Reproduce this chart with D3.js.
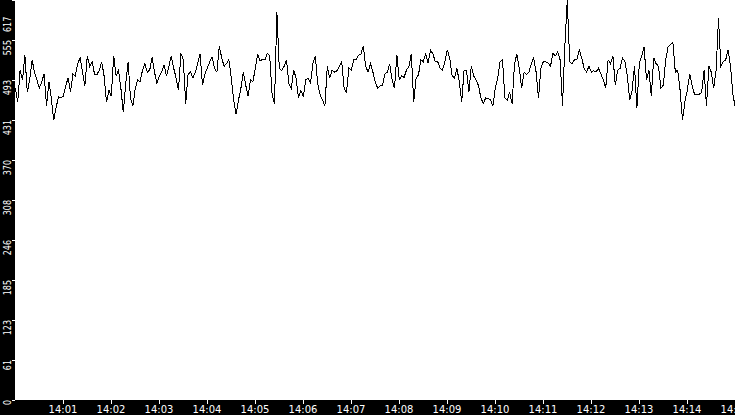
<!DOCTYPE html>
<html>
<head>
<meta charset="utf-8">
<script src="https://cdn.jsdelivr.net/npm/d3@7"></script>
<style>
  html, body { margin: 0; padding: 0; background: #000; }
  svg { display: block; }
</style>
</head>
<body>
<svg id="chart" width="735" height="415"></svg>
<script>
// ---- data ----
const startTime = "2024-01-01T14:00:01";   // first sample
const stepSeconds = 3;                      // sampling interval
const values = [
  480,459,508,493,531,474,493,524,505,493,480,490,502,453,490,465,431,450,467,465,
  468,484,496,474,502,499,518,527,505,484,530,514,521,502,501,508,521,499,459,477,
  468,530,499,508,480,443,487,521,465,453,480,493,490,508,518,505,508,528,505,488,
  499,505,516,499,514,530,511,496,477,534,524,456,502,505,496,505,518,533,485,502,
  511,521,528,511,505,545,527,514,518,524,496,462,440,462,480,505,485,468,493,490,
  511,533,522,525,524,534,530,470,456,598,511,507,514,524,487,480,508,496,465,477,
  467,493,496,488,518,530,487,470,462,453,514,496,508,505,507,514,521,480,474,511,
  508,524,524,531,533,545,514,505,518,505,490,480,484,484,502,505,518,493,480,531,
  493,499,497,508,514,533,459,496,501,524,521,533,519,539,533,521,521,511,508,521,
  539,527,499,496,511,490,459,508,508,474,514,499,493,484,465,457,465,464,462,453,
  480,496,521,524,465,462,474,456,518,533,511,480,505,501,505,518,527,505,465,511,
  521,521,519,514,534,530,536,524,453,547,616,521,518,524,524,539,527,511,505,514,
  505,507,505,511,502,493,480,524,518,530,485,508,511,527,521,499,462,477,514,450,
  518,530,544,493,508,468,527,518,514,480,485,524,544,548,551,505,508,477,431,459,
  477,502,484,471,471,471,474,508,453,514,505,480,508,588,514,521,524,539,514,471,
  450
];
const yMax = 617;
const yTickValues = [0, 61.7, 123.4, 185.1, 246.8, 308.5, 370.2, 431.9, 493.6, 555.3, 617];
const yTickLabels = ["0","61","123","185","246","308","370","431","493","555","617"];
const xDomain = ["2024-01-01T14:00:00", "2024-01-01T14:15:00"];

// ---- layout ----
const W = 735, H = 415;
const left = 15, bottom = 400;

const svg = d3.select("#chart");
svg.append("rect").attr("width", W).attr("height", H).attr("fill", "#000");
svg.append("rect").attr("x", left).attr("y", 0).attr("width", W - left).attr("height", bottom)
  .attr("fill", "#fff");

const t0 = new Date(startTime);
const data = values.map((v, i) => ({ t: new Date(t0.getTime() + i * stepSeconds * 1000), v }));

const x = d3.scaleTime().domain(xDomain.map(d => new Date(d))).range([14.5, 734.5]);
const y = d3.scaleLinear().domain([0, yMax]).range([399.5, -0.5]);

// clip
svg.append("clipPath").attr("id", "plotclip")
  .append("rect").attr("x", left).attr("y", 0).attr("width", W - left).attr("height", bottom);

const line = d3.line().x(d => x(d.t)).y(d => y(d.v));
svg.append("path")
  .datum(data)
  .attr("clip-path", "url(#plotclip)")
  .attr("fill", "none")
  .attr("stroke", "#000")
  .attr("stroke-width", 1)
  .attr("shape-rendering", "crispEdges")
  .attr("d", line);

// x axis
const xAxis = d3.axisBottom(x)
  .ticks(d3.timeMinute.every(1))
  .tickFormat(d3.timeFormat("%H:%M"))
  .tickSize(4)
  .tickSizeOuter(0);
const gx = svg.append("g").attr("transform", `translate(0,${bottom})`).call(xAxis);
gx.select(".domain").remove();
gx.selectAll(".tick").filter(d => d.getMinutes() === 0).remove();
gx.selectAll(".tick line").attr("stroke", "#fff").attr("shape-rendering", "crispEdges");
gx.selectAll(".tick text")
  .attr("fill", "#fff")
  .attr("y", 6)
  .attr("dy", "0.71em")
  .style("font-family", "DejaVu Sans")
  .style("font-size", "10px");

// y axis
const yAxis = d3.axisLeft(y)
  .tickValues(yTickValues)
  .tickFormat((d, i) => yTickLabels[i])
  .tickSize(3)
  .tickSizeOuter(0);
const gy = svg.append("g").attr("transform", `translate(${left},0)`).call(yAxis);
gy.select(".domain").remove();
gy.selectAll(".tick line").attr("stroke", "#fff").attr("shape-rendering", "crispEdges");
gy.selectAll(".tick text").each(function (d) {
  const txt = d3.select(this);
  txt.attr("fill", "#fff")
    .attr("x", null).attr("dy", null)
    .style("font-family", "DejaVu Sans")
    .style("font-size", "10px")
    .attr("text-anchor", "end");
  const ty = y(d);
  const len = this.getComputedTextLength() * 0.8;
  const shift = Math.max(0, len + 1 - ty); // keep top label inside the view
  txt.attr("transform", `translate(-4.5,${shift}) rotate(-90) scale(0.8,1)`);
});
</script>
</body>
</html>
